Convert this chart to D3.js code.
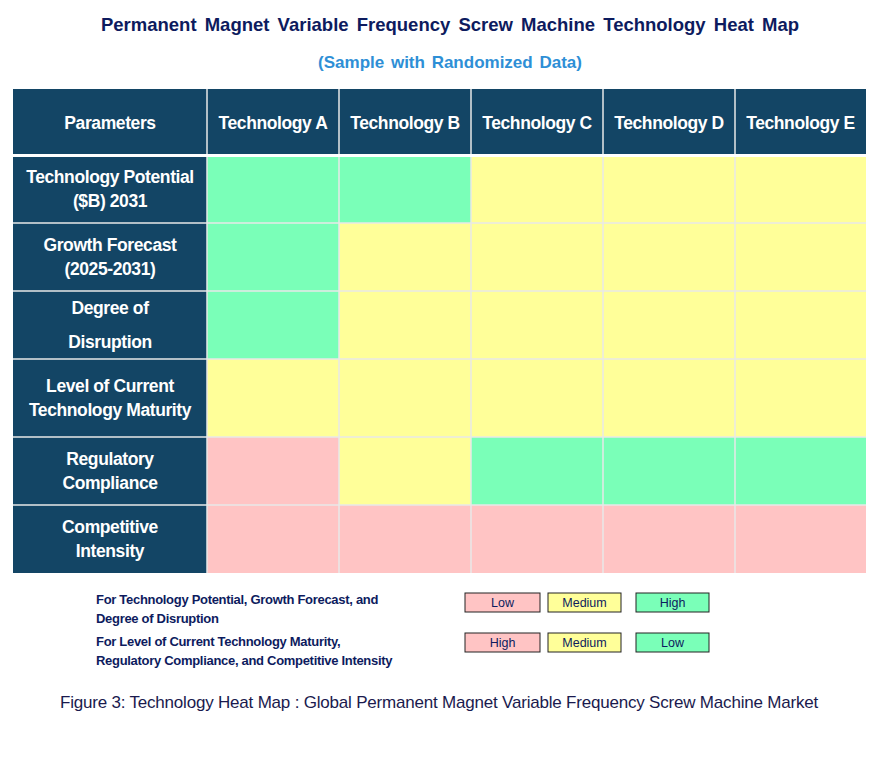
<!DOCTYPE html>
<html><head><meta charset="utf-8">
<script src="https://cdn.jsdelivr.net/npm/d3@7"></script>
<style>body{margin:0;background:#fff}text{font-family:"Liberation Sans",Arial,sans-serif}</style>
</head><body><svg id="c" width="879" height="763"></svg>
<script>
const columns = ["Technology A","Technology B","Technology C","Technology D","Technology E"];
const rowLabels = [["Technology Potential","($B) 2031"],["Growth Forecast","(2025-2031)"],["Degree of","Disruption"],["Level of Current","Technology Maturity"],["Regulatory","Compliance"],["Competitive","Intensity"]];
// 0 = pink, 1 = yellow, 2 = green
const levels = [
  [2,2,1,1,1],
  [2,1,1,1,1],
  [2,1,1,1,1],
  [1,1,1,1,1],
  [0,1,2,2,2],
  [0,0,0,0,0]
];
const legendRows = [
  {text:["For Technology Potential, Growth Forecast, and","Degree of Disruption"], labels:["Low","Medium","High"]},
  {text:["For Level of Current Technology Maturity,","Regulatory Compliance, and Competitive Intensity"], labels:["High","Medium","Low"]}
];
const palette = ["#ffc4c4","#ffff99","#7affb8"];
const navy = "#134565";

const svg = d3.select("#c");
svg.append("text").attr("x",450).attr("y",31).attr("text-anchor","middle").attr("font-size",18.5).attr("font-weight","bold").attr("fill","#0d1b5e").attr("word-spacing",3).text("Permanent Magnet Variable Frequency Screw Machine Technology Heat Map");
svg.append("text").attr("x",450).attr("y",68).attr("text-anchor","middle").attr("font-size",17).attr("font-weight","bold").attr("fill","#2e8fd6").attr("word-spacing",2).text("(Sample with Randomized Data)");

const colEdges = [13,207,339,471,603,735,866];
const rowEdges = [89,155,223,291,359,437,505,573];
const x = i => colEdges[i], y = i => rowEdges[i];

const g = svg.append("g");
// header
g.append("rect").attr("x",13).attr("y",89).attr("width",853).attr("height",66).attr("fill",navy);
["Parameters",...columns].forEach((c,i)=>{
  g.append("text").attr("x",(x(i)+x(i+1))/2).attr("y",129).attr("text-anchor","middle").attr("fill","#fff").attr("font-size",17.5).attr("font-weight","bold").attr("letter-spacing",-0.4).text(c);
});
rowLabels.forEach((lab,r)=>{
  const y0=y(r+1), y1=y(r+2);
  g.append("rect").attr("x",13).attr("y",y0).attr("width",194).attr("height",y1-y0).attr("fill",navy);
  const cy=(y0+y1)/2, sp = r===2?34:24;
  lab.forEach((t,k)=>g.append("text").attr("x",110).attr("y",cy+(k-0.5)*sp+6).attr("text-anchor","middle").attr("fill","#fff").attr("font-size",17.5).attr("font-weight","bold").attr("letter-spacing",-0.4).text(t));
  levels[r].forEach((v,c)=>{
    g.append("rect").attr("x",x(c+1)).attr("y",y0).attr("width",x(c+2)-x(c+1)).attr("height",y1-y0).attr("fill",palette[v]);
  });
});
// grid lines
colEdges.slice(1,-1).forEach(cx=>g.append("line").attr("x1",cx).attr("x2",cx).attr("y1",89).attr("y2",573).attr("stroke","#e8e8e8").attr("stroke-width",1.5));
rowEdges.slice(2,-1).forEach(ry=>g.append("line").attr("x1",13).attr("x2",866).attr("y1",ry).attr("y2",ry).attr("stroke","#e8e8e8").attr("stroke-width",1.5));
g.append("rect").attr("x",13).attr("y",154).attr("width",853).attr("height",3).attr("fill","#fff");

// legend
const boxX=[465,548,636], boxW=[75,73,73];
legendRows.forEach((L,i)=>{
  const ty = 604 + i*42;
  L.text.forEach((t,k)=>svg.append("text").attr("x",96).attr("y",ty+k*19).attr("font-size",13).attr("font-weight","bold").attr("fill","#0d1b5e").attr("letter-spacing",-0.3).text(t));
  L.labels.forEach((lb,j)=>{
    svg.append("rect").attr("x",boxX[j]).attr("y",593+i*40).attr("width",boxW[j]).attr("height",19).attr("fill",palette[j]).attr("stroke","#222").attr("stroke-width",1);
    svg.append("text").attr("x",boxX[j]+boxW[j]/2).attr("y",607+i*40).attr("text-anchor","middle").attr("font-size",12.5).attr("fill","#0d1b5e").text(lb);
  });
});
svg.append("text").attr("x",439).attr("y",708).attr("text-anchor","middle").attr("font-size",17).attr("fill","#1a1a4e").attr("letter-spacing",-0.2).text("Figure 3: Technology Heat Map : Global Permanent Magnet Variable Frequency Screw Machine Market");
</script></body></html>
